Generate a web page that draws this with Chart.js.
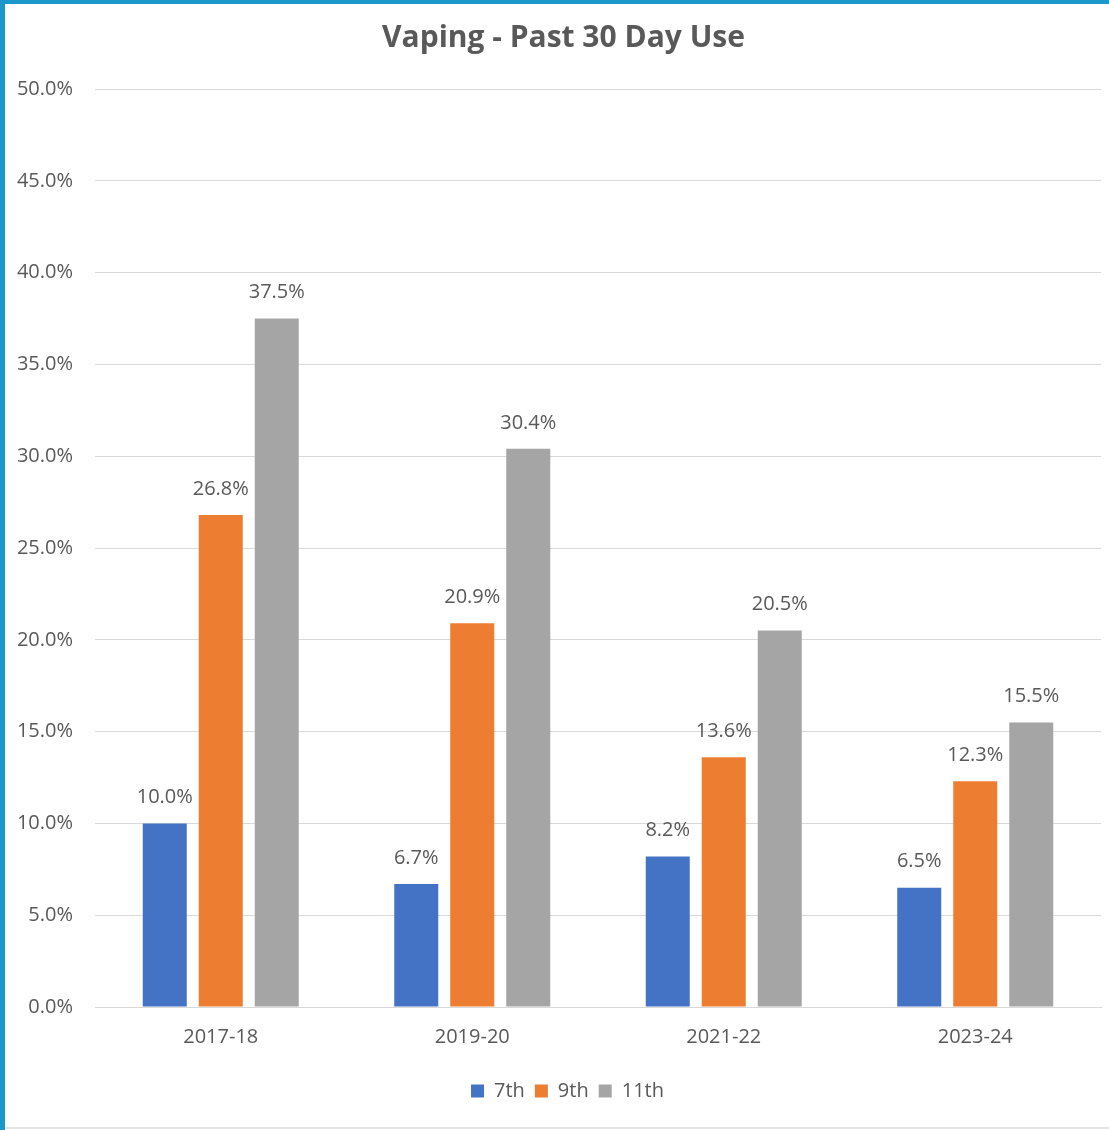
<!DOCTYPE html>
<html>
<head>
<meta charset="utf-8">
<script src="https://cdn.jsdelivr.net/npm/chart.js@4.4.1/dist/chart.umd.min.js"></script>
<style>
    html, body { margin: 0; padding: 0; background: #ffffff; }
    #wrap { position: relative; width: 1109px; height: 1130px; overflow: hidden; }
    #chart_canvas { position: absolute; left: 0; top: 0; }
    .edge_left { position: absolute; left: 0; top: 0; width: 5px; height: 1130px; background: #1b98c9; }
    .edge_top { position: absolute; left: 0; top: 0; width: 1109px; height: 4px; background: #1b98c9; }
    .edge_bottom { position: absolute; left: 5px; top: 1127px; width: 1104px; height: 2px; background: #e3e3e3; }
</style>
</head>
<body>
<div id="wrap">
    <canvas id="chart_canvas" width="1109" height="1130"></canvas>
    <div class="edge_left"></div>
    <div class="edge_top"></div>
    <div class="edge_bottom"></div>
</div>
<script>
// school years on the x axis
var school_years = ['2017-18', '2019-20', '2021-22', '2023-24'];

// past 30 day vaping use, percent
var grade_7th = [10.0, 6.7, 8.2, 6.5];
var grade_9th = [26.8, 20.9, 13.6, 12.3];
var grade_11th = [37.5, 30.4, 20.5, 15.5];

var series_names = ['7th', '9th', '11th'];
var series_colors = ['#4472c4', '#ed7d31', '#a5a5a5'];

var text_color = '#595959';
var font_family = "'Open Sans', 'Noto Sans', sans-serif";

// draws the value above each bar (no datalabels plugin offline)
var bar_labels = {
    id: 'bar_labels',
    afterDatasetsDraw: function (chart) {
        var ctx = chart.ctx;
        ctx.save();
        ctx.fillStyle = text_color;
        ctx.font = '20px ' + font_family;
        ctx.textAlign = 'center';
        ctx.textBaseline = 'middle';
        chart.data.datasets.forEach(function (ds, i) {
            var meta = chart.getDatasetMeta(i);
            meta.data.forEach(function (bar, j) {
                ctx.fillText(ds.data[j].toFixed(1) + '%', bar.x, bar.y - 26);
            });
        });
        ctx.restore();
    }
};

// title and legend sit a bit right of the canvas centre in the original
var box_shift = {
    id: 'box_shift',
    afterLayout: function (chart) {
        if (chart.titleBlock) {
            chart.titleBlock.left += 26;
        }
        if (chart.legend) {
            chart.legend.left += 34;
        }
    }
};

var all_series = [grade_7th, grade_9th, grade_11th];
var datasets = all_series.map(function (values, i) {
    return {
        label: series_names[i],
        data: values,
        backgroundColor: series_colors[i],
        borderWidth: 0,
        categoryPercentage: 0.668,
        barPercentage: 0.786
    };
});

var chart = new Chart(document.getElementById('chart_canvas'), {
    type: 'bar',
    data: {
        labels: school_years,
        datasets: datasets
    },
    options: {
        responsive: false,
        animation: false,
        layout: {
            padding: { left: 0, right: 8, top: 0, bottom: 19 }
        },
        plugins: {
            title: {
                display: true,
                text: 'Vaping - Past 30 Day Use',
                color: text_color,
                font: { family: font_family, size: 30, weight: 'bold' },
                padding: { top: 20, bottom: 33 }
            },
            legend: {
                display: true,
                position: 'bottom',
                labels: {
                    color: text_color,
                    font: { family: font_family, size: 20 },
                    boxWidth: 13,
                    boxHeight: 13,
                    padding: 10
                }
            },
            tooltip: { enabled: false }
        },
        scales: {
            x: {
                afterFit: function (scale) { scale.height += 4; },
                grid: { display: false, drawTicks: false },
                border: { display: true, color: '#d9d9d9', width: 1 },
                ticks: {
                    color: text_color,
                    font: { family: font_family, size: 20 },
                    padding: 18
                }
            },
            y: {
                min: 0,
                max: 50,
                afterFit: function (scale) { scale.width = 95; },
                grid: { color: '#d9d9d9', drawTicks: false },
                border: { display: false },
                ticks: {
                    stepSize: 5,
                    color: text_color,
                    font: { family: font_family, size: 20 },
                    padding: 22,
                    callback: function (v) { return v.toFixed(1) + '%'; }
                }
            }
        }
    },
    plugins: [bar_labels, box_shift]
});
</script>
</body>
</html>
